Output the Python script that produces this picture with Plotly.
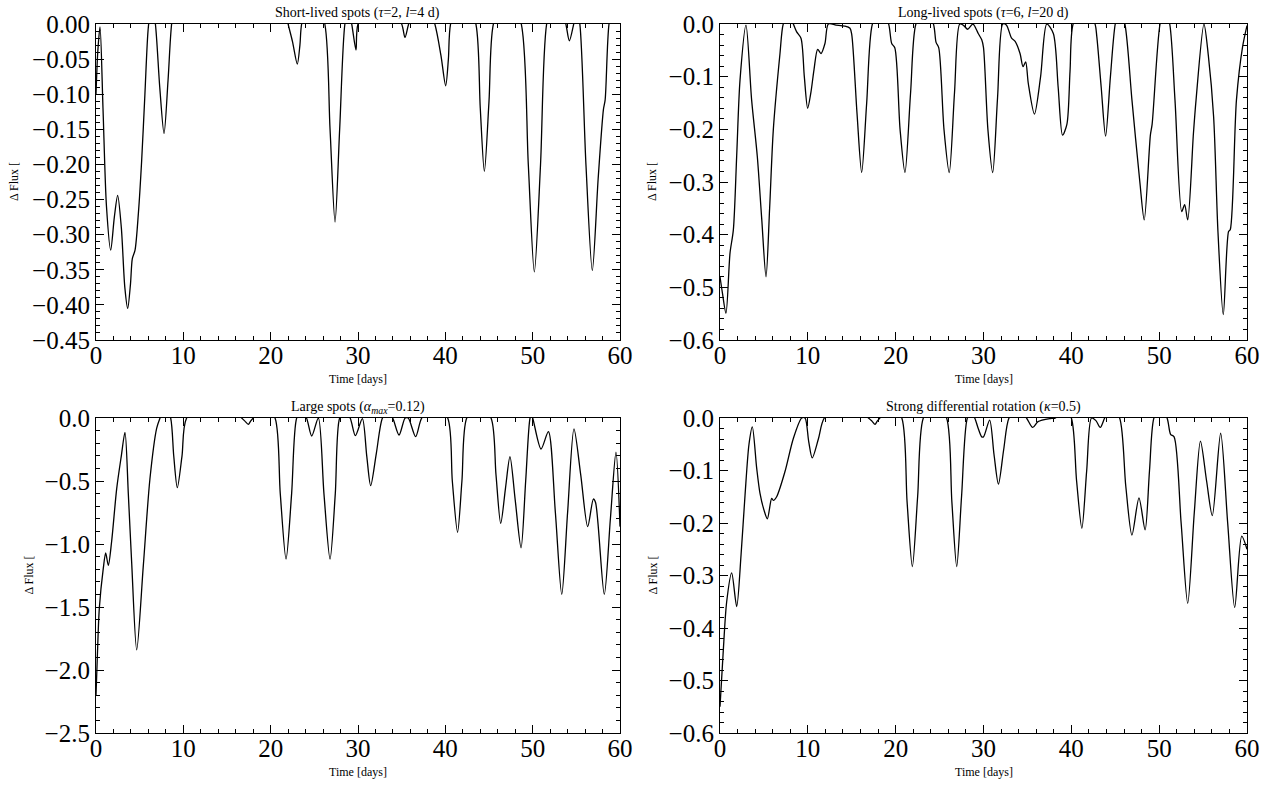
import plotly.graph_objects as go

# ---------------- data ----------------
t_short = [0, 0.2, 0.46, 0.8, 1.2, 1.68, 2.1, 2.48, 2.9, 3.3, 3.63, 3.95, 4.16, 4.47, 4.85, 5.23, 5.6, 5.99,
           6.4, 6.8, 7.3, 7.79, 8.25, 8.66, 9.2, 15.5, 21.5, 22.0, 22.5, 23.05, 23.35, 23.55, 24.8, 26.2,
           26.8, 27.37, 27.9, 28.5, 28.9, 29.28, 29.77, 30.0, 32.5, 35.0, 35.38, 35.8, 37.3, 38.8, 39.5,
           40.04, 40.35, 40.6, 42.0, 43.5, 44.0, 44.47, 45.0, 45.5, 47.1, 48.7, 49.5, 50.19, 50.9, 51.6,
           52.7, 53.8, 54.2, 54.7, 55.05, 55.4, 56.1, 56.83, 57.5, 58.1, 58.3, 58.74, 59.4, 60]
f_short = [-0.10, -0.04, -0.004, -0.12, -0.26, -0.322, -0.275, -0.244, -0.29, -0.375, -0.405, -0.37, -0.334,
           -0.322, -0.27, -0.194, -0.10, -0.005, 0.03, 0.0, -0.09, -0.156, -0.08, 0.0, 0.04, 0.08, 0.03, 0.0,
           -0.025, -0.057, -0.03, 0.0, 0.05, 0.0, -0.15, -0.282, -0.15, 0.0, 0.02, 0.0, -0.037, 0.0, 0.05,
           0.0, -0.019, 0.0, 0.05, 0.0, -0.045, -0.088, -0.05, 0.0, 0.05, 0.0, -0.12, -0.21, -0.11, 0.0,
           0.05, 0.0, -0.2, -0.353, -0.2, 0.0, 0.05, 0.0, -0.024, 0.0, 0.02, 0.0, -0.2, -0.351, -0.22,
           -0.122, -0.108, 0.0, 0.04, 0.05]

t_long = [0, 0.27, 0.68, 1.14, 1.52, 1.9, 2.28, 2.96, 3.6, 4.25, 4.75, 5.24, 5.65, 6.07, 6.83, 7.2, 7.8,
          8.35, 8.73, 9.22, 9.6, 9.98, 10.35, 10.7, 11.12, 11.5, 11.95, 12.34, 13.2, 14.2, 14.8, 15.0, 15.6,
          16.13, 16.7, 17.35, 18.3, 19.2, 19.55, 19.9, 20.5, 21.06, 21.7, 22.3, 23.3, 24.3, 24.6, 24.9,
          25.5, 26.1, 26.7, 27.3, 27.75, 28.2, 28.8, 29.4, 29.8, 30.0, 30.5, 31.05, 31.6, 32.2, 32.6, 33.2,
          33.6, 34.16, 34.5, 34.8, 35.1, 35.8, 36.5, 37.2, 37.95, 38.5, 39.0, 39.5, 39.85, 40.2, 41.5,
          42.7, 42.9, 43.4, 43.9, 44.45, 45.0, 45.5, 46.1, 46.9, 47.8, 48.3, 49.0, 49.2, 50.1, 50.65,
          51.2, 51.8, 52.57, 52.9, 53.25, 53.9, 54.2, 55.1, 55.6, 56.2, 56.7, 57.3, 57.9, 58.1, 58.8,
          59.5, 60]
f_long = [-0.48, -0.51, -0.549, -0.435, -0.391, -0.25, -0.106, -0.002, -0.144, -0.252, -0.37, -0.48, -0.35,
          -0.201, -0.056, 0.0, 0.02, 0.0, -0.015, -0.027, -0.1, -0.16, -0.13, -0.087, -0.048, -0.056,
          -0.037, 0.0, -0.002, -0.004, -0.008, -0.02, -0.17, -0.282, -0.15, 0.0, 0.03, 0.0, -0.037,
          -0.045, -0.2, -0.282, -0.13, 0.0, 0.03, 0.0, -0.035, -0.045, -0.2, -0.282, -0.13, 0.0, -0.003,
          -0.01, 0.0, -0.018, -0.03, -0.045, -0.2, -0.282, -0.14, 0.0, -0.002, -0.027, -0.033, -0.056,
          -0.081, -0.072, -0.113, -0.171, -0.10, 0.0, -0.018, -0.12, -0.211, -0.19, -0.09, 0.0, 0.04,
          0.0, -0.024, -0.12, -0.213, -0.1, 0.0, 0.03, 0.0, -0.144, -0.30, -0.372, -0.211, -0.19, 0.0,
          0.03, 0.0, -0.144, -0.356, -0.343, -0.372, -0.208, -0.144, 0.0, -0.06, -0.176, -0.397, -0.552,
          -0.394, -0.39, -0.144, -0.043, -0.003]

t_large = [0, 0.15, 0.38, 0.84, 1.11, 1.41, 1.79, 2.37, 2.9, 3.32, 3.7, 4.08, 4.66, 5.42, 6.18, 6.95, 7.33,
           7.95, 8.55, 8.9, 9.31, 9.85, 10.38, 13.5, 16.68, 17.05, 17.44, 17.7, 18.0, 19.3, 20.5, 21.1,
           21.76, 22.4, 22.98, 23.5, 24.1, 24.7, 25.46, 26.1, 26.8, 27.4, 27.9, 28.5, 29.1, 29.7, 30.5,
           31.0, 31.45, 32.1, 32.8, 33.4, 33.97, 34.7, 35.4, 35.75, 36.6, 37.3, 38.8, 40.27, 40.8, 41.4,
           41.9, 42.45, 43.8, 45.23, 45.8, 46.34, 46.9, 47.4, 48.0, 48.67, 49.2, 49.7, 49.85, 50.0, 50.96,
           51.8, 52.6, 53.33, 54.0, 54.73, 55.5, 56.3, 56.95, 57.2, 58.2, 58.9, 59.54, 60]
f_large = [-2.2, -1.9, -1.51, -1.19, -1.07, -1.17, -0.98, -0.56, -0.3, -0.114, -0.6, -1.14, -1.84, -1.17,
           -0.48, -0.08, 0.0, 0.1, 0.0, -0.3, -0.553, -0.3, 0.0, 0.2, 0.0, -0.025, -0.05, -0.025, 0.0,
           0.1, 0.0, -0.6, -1.12, -0.6, 0.0, 0.05, 0.0, -0.143, 0.0, -0.6, -1.12, -0.6, 0.0, 0.05, 0.0,
           -0.14, -0.005, -0.3, -0.537, -0.28, 0.0, 0.05, 0.0, -0.135, 0.0, 0.0, -0.148, 0.0, 0.1, 0.0,
           -0.5, -0.907, -0.5, 0.0, 0.1, 0.0, -0.45, -0.836, -0.55, -0.307, -0.65, -1.03, -0.5, 0.0, 0.02,
           0.0, -0.246, -0.108, -0.75, -1.40, -0.75, -0.087, -0.45, -0.862, -0.643, -0.67, -1.40, -0.8,
           -0.272, -0.862]

t_diff = [0, 0.35, 0.76, 1.33, 1.9, 2.4, 2.85, 3.3, 3.68, 4.18, 4.55, 5.0, 5.39, 5.88, 6.07, 6.45, 7.4,
          8.35, 9.3, 9.68, 10.1, 10.5, 11.2, 11.88, 14.4, 16.9, 17.3, 17.65, 17.9, 18.2, 19.4, 20.7, 21.3,
          21.9, 22.5, 23.15, 24.5, 25.8, 26.4, 26.95, 27.5, 28.16, 28.6, 29.0, 29.4, 29.8, 30.0, 30.7,
          31.2, 31.7, 32.3, 32.9, 33.9, 34.9, 35.6, 36.2, 37.6, 38.2, 39.1, 40.0, 40.6, 41.2, 41.75, 42.3,
          42.8, 43.3, 43.8, 44.6, 45.5, 46.2, 46.9, 47.7, 48.4, 48.9, 49.4, 50.1, 50.9, 51.3, 51.7, 52.5,
          53.25, 54.0, 54.7, 55.4, 56.05, 57.0, 57.8, 58.6, 59.4, 60]
f_diff = [-0.55, -0.45, -0.35, -0.295, -0.359, -0.26, -0.147, -0.05, -0.017, -0.096, -0.143, -0.175, -0.192,
          -0.153, -0.157, -0.15, -0.102, -0.039, 0.0, 0.0, -0.045, -0.076, -0.04, 0.0, 0.03, 0.0, -0.006,
          -0.012, -0.006, 0.0, 0.03, 0.0, -0.16, -0.283, -0.15, 0.0, 0.03, 0.0, -0.16, -0.283, -0.15, 0.0,
          0.01, 0.0, -0.02, -0.036, -0.036, -0.004, -0.07, -0.126, -0.06, 0.0, 0.02, 0.0, -0.018, -0.007,
          -0.001, 0.0, 0.02, 0.0, -0.12, -0.21, -0.1, 0.0, -0.005, -0.018, 0.0, 0.02, 0.0, -0.13, -0.223,
          -0.152, -0.213, -0.1, 0.0, 0.02, 0.0, -0.031, -0.036, -0.2, -0.353, -0.18, -0.044, -0.12, -0.186,
          -0.029, -0.2, -0.361, -0.225, -0.25]

titles = ["Short-lived spots (<i>τ</i>=2, <i>l</i>=4 d)",
          "Long-lived spots (<i>τ</i>=6, <i>l</i>=20 d)",
          "Large spots (<i>α<sub>max</sub></i>=0.12)",
          "Strong differential rotation (<i>κ</i>=0.5)"]
y_ranges = [(-0.45, 0.0), (-0.6, 0.0), (-2.5, 0.0), (-0.6, 0.0)]
y_dticks = [0.05, 0.1, 0.5, 0.1]
y_minor = [0.01, 0.02, 0.1, 0.02]
y_formats = [".2f", ".1f", ".1f", ".1f"]
x_label = "Time [days]"
y_label = "Δ Flux ["

series = [(t_short, f_short), (t_long, f_long), (t_large, f_large), (t_diff, f_diff)]

# ---------------- layout geometry ----------------
W, H = 1267, 787
FONT = "Liberation Serif"
boxes = [(96, 620, 24, 340), (720, 1247, 24, 340), (96, 620, 418, 733), (720, 1247, 418, 733)]
ylab_x = [14, 652, 28, 652]

fig = go.Figure()
annotations = []
for i, ((t, f), (x0, x1, y0, y1)) in enumerate(zip(series, boxes)):
    k = "" if i == 0 else str(i + 1)
    fig.add_trace(go.Scatter(x=t, y=f, mode="lines", xaxis="x" + k, yaxis="y" + k,
                             line=dict(color="black", width=1.3, shape="spline", smoothing=0.8),
                             showlegend=False, hoverinfo="skip"))
    common = dict(showline=True, linecolor="black", linewidth=1.2, mirror="ticks", ticks="inside",
                  ticklen=8, tickwidth=1, tickcolor="black", showgrid=False, zeroline=False,
                  automargin=False, tickfont=dict(family=FONT, size=25, color="black"))
    fig.layout["xaxis" + k] = dict(common, domain=[x0 / W, x1 / W], range=[0, 60], tick0=0, dtick=10,
                                   anchor="y" + k, ticklabelstandoff=-7,
                                   minor=dict(dtick=2, tick0=0, ticks="inside", ticklen=4, tickcolor="black",
                                              showgrid=False))
    fig.layout["yaxis" + k] = dict(common, domain=[1 - y1 / H, 1 - y0 / H], range=list(y_ranges[i]),
                                   tick0=0, dtick=y_dticks[i], tickformat=y_formats[i], anchor="x" + k,
                                   minor=dict(dtick=y_minor[i], tick0=0, ticks="inside", ticklen=4,
                                              tickcolor="black", showgrid=False))
    cx = (x0 + x1) / 2
    annotations.append(dict(text=titles[i], x=cx / W, y=1 - (y0 - 11) / H, xref="paper", yref="paper",
                            showarrow=False, font=dict(family=FONT, size=14, color="black"),
                            xanchor="center", yanchor="middle"))
    annotations.append(dict(text=x_label, x=cx / W, y=1 - (y1 + 39) / H, xref="paper", yref="paper",
                            showarrow=False, font=dict(family=FONT, size=12, color="black"),
                            xanchor="center", yanchor="middle"))
    annotations.append(dict(text=y_label, x=ylab_x[i] / W, y=1 - ((y0 + y1) / 2) / H, xref="paper",
                            yref="paper", showarrow=False, textangle=-90,
                            font=dict(family=FONT, size=12, color="black"),
                            xanchor="center", yanchor="middle"))

fig.update_layout(width=W, height=H, margin=dict(l=0, r=0, t=0, b=0), paper_bgcolor="white",
                  plot_bgcolor="white", annotations=annotations)
fig.write_html("out.html")
